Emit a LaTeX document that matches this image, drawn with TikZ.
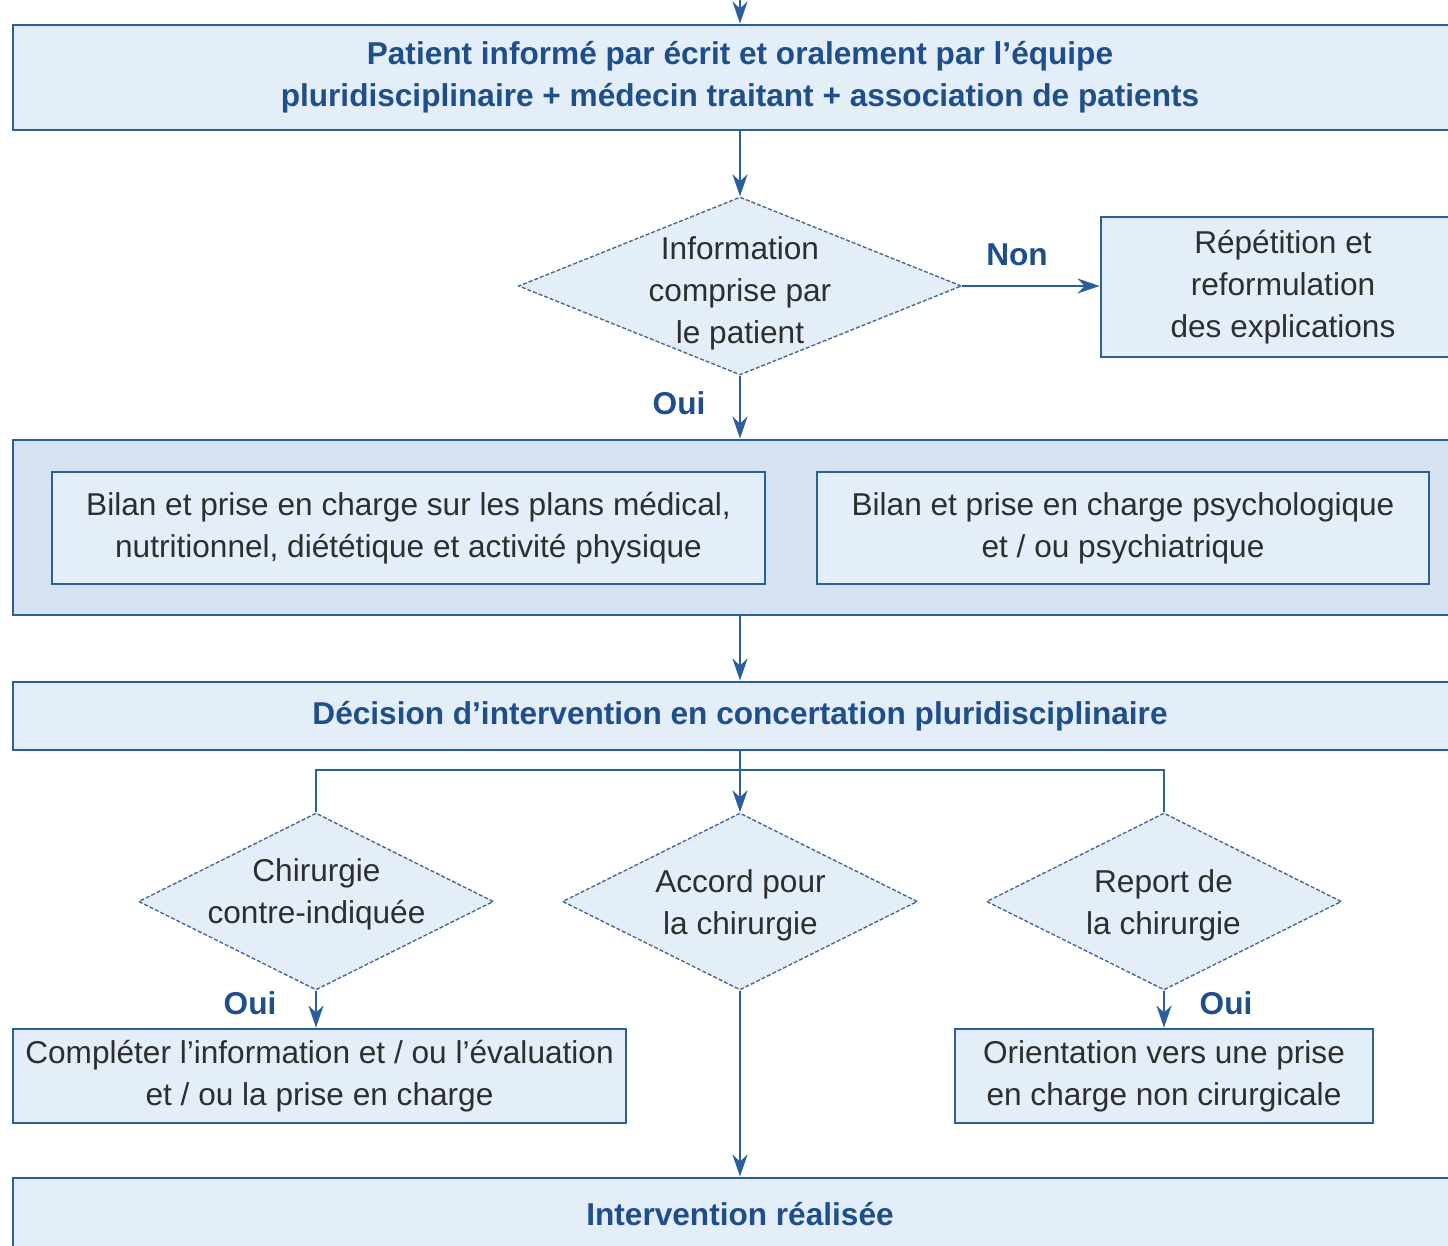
\documentclass[tikz,border=0pt]{standalone}
\usepackage{fontspec}
\setmainfont{Liberation Sans}
\usetikzlibrary{shapes.geometric,arrows.meta}
\definecolor{bord}{HTML}{2A5E9C}
\definecolor{fillA}{HTML}{E3EEF8}
\definecolor{fillB}{HTML}{D5E3F3}
\definecolor{lbl}{HTML}{1F4E8C}
\definecolor{txt}{HTML}{2E2E2E}
\definecolor{dia}{HTML}{4A6A95}
\begin{document}
\begin{tikzpicture}[x=0.5pt,y=-0.5pt,
  base/.style={font=\fontsize{15.8}{21}\selectfont},
  box/.style={base, draw=bord, line width=1.4pt, fill=fillA, rectangle, inner sep=0pt, align=center, text=txt},
  boldbox/.style={box, text=lbl, font=\fontsize{15.8}{21}\selectfont\bfseries},
  groupbox/.style={draw=bord, line width=1.4pt, fill=fillB, rectangle, inner sep=0pt},
  decision/.style={diamond, draw=dia, dash pattern=on 2pt off 1pt, line width=0.7pt, fill=fillA, inner sep=0pt},
  dtext/.style={base, align=center, text=txt, inner sep=0pt},
  lab/.style={font=\fontsize{15.8}{21}\selectfont\bfseries, text=lbl, inner sep=0pt},
  arr/.style={draw=bord, line width=1.3pt, -{Stealth[length=11pt,width=7.5pt,inset=3.5pt]}},
  line/.style={draw=bord, line width=1.3pt}
]
\useasboundingbox (0,0) rectangle (1448,1246);
\clip (0,0) rectangle (1448,1246);

% nodes
\node[boldbox, minimum width=727pt, minimum height=52.5pt] (b1) at (740,77.5)
  {Patient informé par écrit et oralement par l'équipe\\pluridisciplinaire + médecin traitant + association de patients};
\node[decision, minimum width=221.5pt, minimum height=89pt] (d1) at (740,286) {};
\node[dtext] (d1t) at (740,293) {Information\\comprise par\\le patient};
\node[box, minimum width=182pt, minimum height=70pt] (rep) at (1283,287)
  {Répétition et\\reformulation\\des explications};

\node[groupbox, minimum width=727pt, minimum height=87.5pt] (grp) at (740,527.5) {};
\node[box, minimum width=356.5pt, minimum height=56pt] (bil1) at (408.5,528)
  {Bilan et prise en charge sur les plans médical,\\nutritionnel, diététique et activité physique};
\node[box, minimum width=306pt, minimum height=56pt] (bil2) at (1123,528)
  {Bilan et prise en charge psychologique\\et / ou psychiatrique};

\node[boldbox, minimum width=727pt, minimum height=34pt] (dec) at (740,716)
  {Décision d'intervention en concertation pluridisciplinaire};

\node[decision, minimum width=177.5pt, minimum height=88.5pt] (dl) at (316,901.5) {};
\node[dtext] (dlt) at (316.5,894) {Chirurgie\\contre-indiquée};
\node[decision, minimum width=177.5pt, minimum height=88.5pt] (dc) at (740,901.5) {};
\node[dtext] (dct) at (740.5,905) {Accord pour\\la chirurgie};
\node[decision, minimum width=177.5pt, minimum height=88.5pt] (dr) at (1164,901.5) {};
\node[dtext] (drt) at (1163.5,905) {Report de\\la chirurgie};

\node[box, minimum width=306.5pt, minimum height=47pt] (bl) at (319.5,1076)
  {Compléter l'information et / ou l'évaluation\\et / ou la prise en charge};
\node[box, minimum width=209pt, minimum height=47pt] (br) at (1164,1076)
  {Orientation vers une prise\\en charge non cirurgicale};

\node[boldbox, minimum width=727pt, minimum height=36pt] (fin) at (740,1214)
  {Intervention réalisée};

% labels
\node[lab] (non) at (1017,255) {Non};
\node[lab] (oui1) at (679,403) {Oui};
\node[lab] (oui2) at (250,1003) {Oui};
\node[lab] (oui3) at (1226,1003) {Oui};

% connectors
\coordinate (top) at (740,-40);
\coordinate (split) at (740,770);
\draw[arr] (top) -- (b1.north);
\draw[arr] (b1.south) -- (d1.north);
\draw[arr] (d1.east) -- (d1.east -| rep.west);
\draw[arr] (d1.south) -- (grp.north);
\draw[arr] (grp.south) -- (dec.north);
\draw[arr] (dec.south) -- (dc.north);
\draw[line] (dl.north) -- (dl.north |- split) -- (dr.north |- split) -- (dr.north);
\draw[arr] (dl.south) -- (dl.south |- bl.north);
\draw[arr] (dr.south) -- (dr.south |- br.north);
\draw[arr] (dc.south) -- (dc.south |- fin.north);
\end{tikzpicture}
\end{document}
